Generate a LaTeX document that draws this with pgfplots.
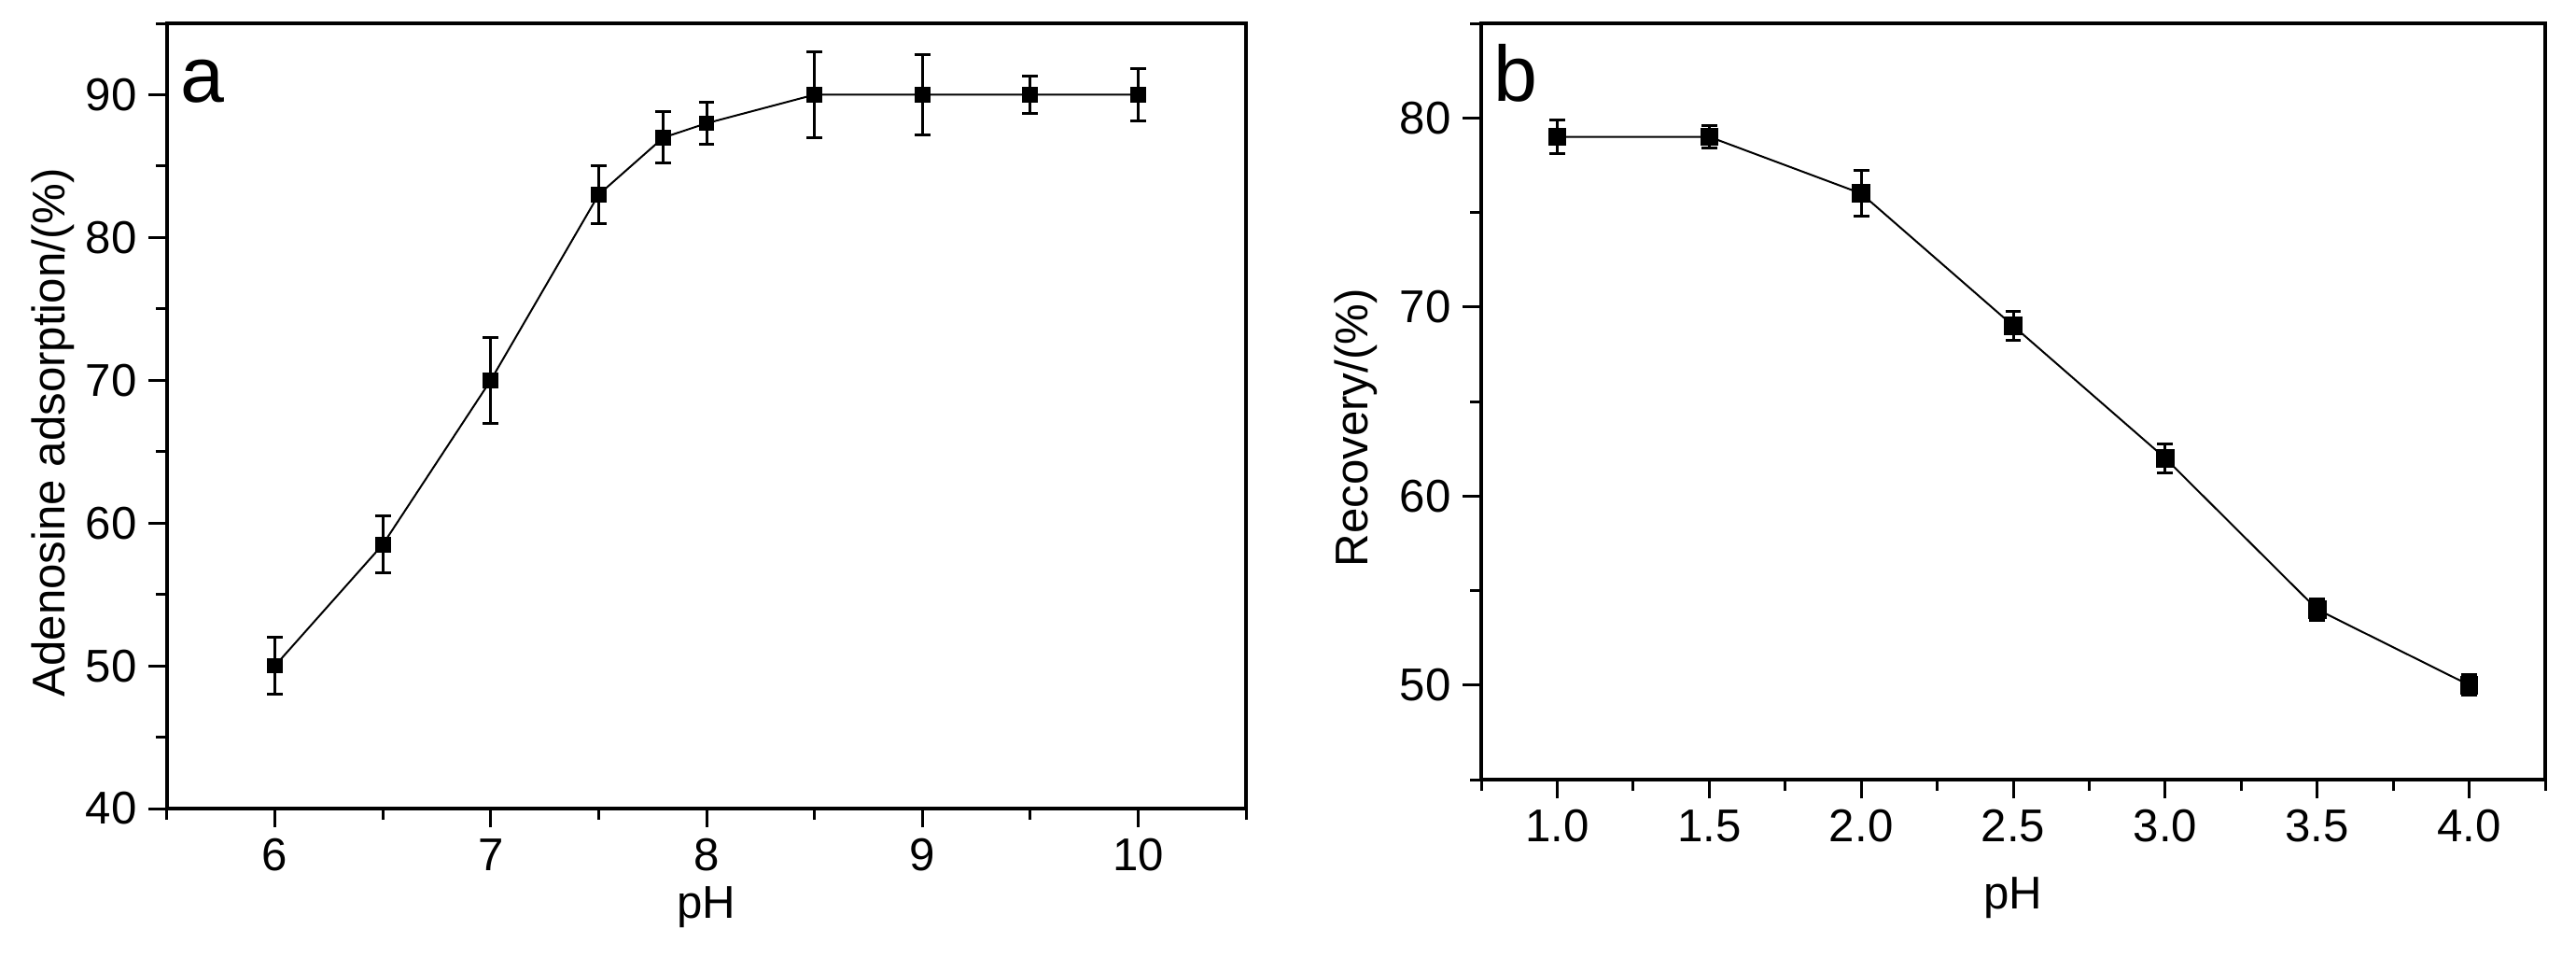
\documentclass[border=0pt]{standalone}
\usepackage{fontspec}
\setmainfont{Liberation Sans}
\usepackage{pgfplots}
\usepackage{pgfplotstable}
\pgfplotsset{compat=1.18}

% pH series, adsorption (a) and recovery (b)
\pgfplotstableread{
x    y     e
6.0  50.0  2.0
6.5  58.5  2.0
7.0  70.0  3.0
7.5  83.0  2.05
7.8  87.0  1.8
8.0  88.0  1.5
8.5  90.0  3.0
9.0  90.0  2.8
9.5  90.0  1.3
10.0 90.0  1.85
}\adsorb
\pgfplotstableread{
x    y     e
1.0  79.0  0.9
1.5  79.0  0.6
2.0  76.0  1.2
2.5  69.0  0.77
3.0  62.0  0.77
3.5  54.0  0.56
4.0  50.0  0.55
}\recov

\pgfplotsset{
  panel/.style={
    scale only axis,
    anchor=south west,
    font=\fontsize{14}{16}\selectfont,
    tick label style={font=\fontsize{14}{16}\selectfont},
    label style={font=\fontsize{14}{16}\selectfont},
    /pgf/number format/assume math mode=true,
    axis line style={line width=0.33mm},
    tick align=outside,
    xtick pos=bottom, ytick pos=left,
    major tick length=2mm, minor tick length=1.2mm,
    tick style={black, line width=0.3mm},
  },
  series/.style={
    black, line width=0.2mm,
    mark=square*, mark size=#1, mark options={solid, fill=black},
    error bars/.cd, y dir=both, y explicit,
    error bar style={line width=0.3mm},
    error mark options={rotate=90, line width=0.3mm, mark size=2.4pt},
  },
}

\begin{document}
\begin{tikzpicture}
\useasboundingbox (0,0) rectangle (276mm,102.4mm);

\begin{axis}[panel,
  at={(17.9mm,15.8mm)}, width=115.6mm, height=84.1mm,
  xmin=5.5, xmax=10.5, ymin=40, ymax=95,
  xtick={6,7,8,9,10}, minor xtick={5.5,6.5,7.5,8.5,9.5,10.5},
  ytick={40,50,60,70,80,90}, minor ytick={45,55,65,75,85,95},
  xlabel={pH}, ylabel={Adenosine adsorption/(\%)},
  xlabel style={at={(axis description cs:0.5,-0.126)}, anchor=center},
  ylabel style={at={(axis description cs:-0.1055,0.479)}, anchor=center},
]
  \addplot[series=2.1pt] table[x=x, y=y, y error=e] {\adsorb};
  \node[anchor=base west, font=\fontsize{24}{26}\selectfont, inner sep=0pt]
    at (rel axis cs:0.012,0.899) {a};
\end{axis}

\begin{axis}[panel,
  at={(158.7mm,18.9mm)}, width=114.0mm, height=81.0mm,
  xmin=0.75, xmax=4.25, ymin=45, ymax=85,
  xtick={1,1.5,...,4}, minor xtick={0.75,1.25,...,4.25},
  ytick={50,60,70,80}, minor ytick={45,55,65,75,85},
  xticklabel style={/pgf/number format/.cd, fixed, fixed zerofill, precision=1},
  xlabel={pH}, ylabel={Recovery/(\%)},
  xlabel style={at={(axis description cs:0.5,-0.157)}, anchor=center},
  ylabel style={at={(axis description cs:-0.118,0.465)}, anchor=center},
]
  \addplot[series=2.5pt] table[x=x, y=y, y error=e] {\recov};
  \node[anchor=base west, font=\fontsize{24}{26}\selectfont, inner sep=0pt]
    at (rel axis cs:0.0114,0.8975) {b};
\end{axis}
\end{tikzpicture}
\end{document}
